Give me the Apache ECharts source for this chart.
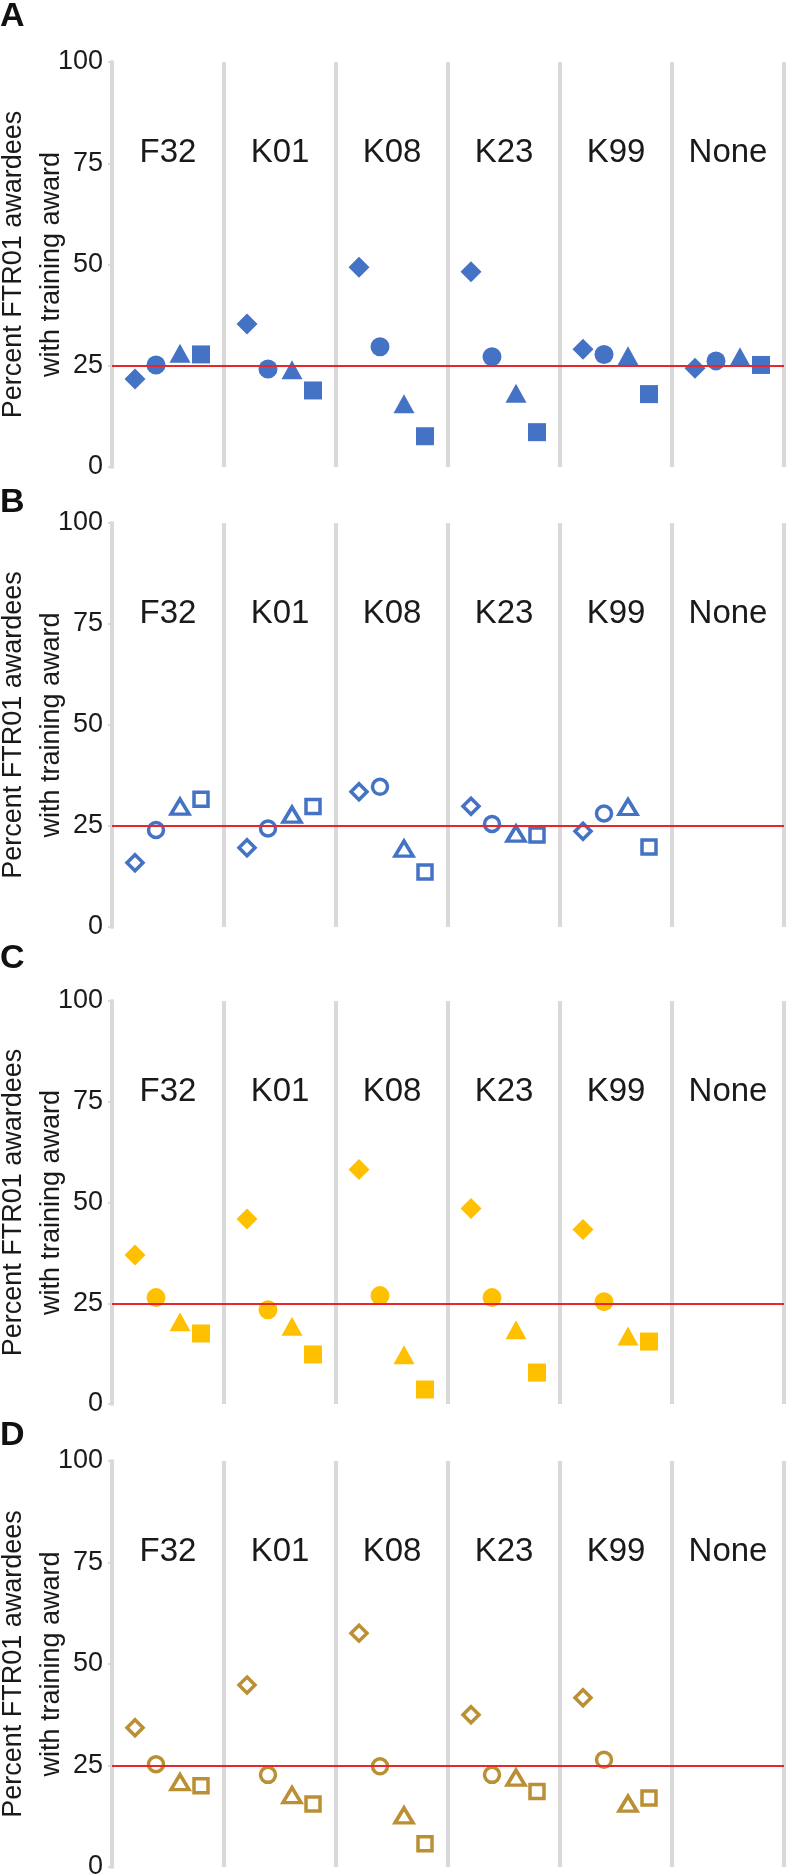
<!DOCTYPE html>
<html>
<head>
<meta charset="utf-8">
<script src="https://cdn.jsdelivr.net/npm/echarts@6/dist/echarts.min.js"></script>
<style>
html,body{margin:0;padding:0;background:#ffffff;}
#chart{width:790px;height:1874px;}
</style>
</head>
<body>
<div id="chart"></div>
<script>
// ---------- data ----------
const categories = ['F32', 'K01', 'K08', 'K23', 'K99', 'None'];
const yTickValues = [0, 25, 50, 75, 100];
const referenceLevel = 25;
const panelLetters = ['A', 'B', 'C', 'D'];
const yAxisName = 'Percent FTR01 awardees\nwith training award';

// Panel A (filled blue)
const diamondA  = [21.7, 35.3, 49.3, 48.2, 29.1, 24.4];
const circleA   = [25.2, 24.2, 29.7, 27.2, 27.8, 26.2];
const triangleA = [28.1, 24.0, 15.6, 18.2, 27.5, 27.2];
const squareA   = [27.8, 18.9, 7.6, 8.6, 18.0, 25.2];

// Panel B (hollow blue)
const diamondB  = [15.9, 19.6, 33.5, 29.9, 23.7, null];
const circleB   = [24.0, 24.4, 34.7, 25.5, 28.1, null];
const triangleB = [29.8, 27.8, 19.4, 23.1, 29.7, null];
const squareB   = [31.6, 29.8, 13.6, 22.8, 19.8, null];

// Panel C (filled gold)
const diamondC  = [37.0, 45.9, 58.2, 48.5, 43.3, null];
const circleC   = [26.4, 23.4, 26.9, 26.4, 25.4, null];
const triangleC = [20.4, 19.3, 12.2, 18.4, 16.9, null];
const squareC   = [17.5, 12.3, 3.6, 7.8, 15.5, null];

// Panel D (hollow dark gold)
const diamondD  = [34.3, 44.8, 57.6, 37.5, 41.7, null];
const circleD   = [25.3, 22.7, 24.8, 22.7, 26.4, null];
const triangleD = [20.9, 17.7, 12.7, 22.0, 15.6, null];
const squareD   = [20.0, 15.5, 5.7, 18.6, 17.0, null];

// ---------- styling / layout ----------
const FONT = '"Liberation Sans", Arial, Helvetica, sans-serif';
const panels = [
  { letter: panelLetters[0], data: [diamondA, circleA, triangleA, squareA], color: '#4472c4', filled: true,  top: 62,   height: 405, letterTop: 0 },
  { letter: panelLetters[1], data: [diamondB, circleB, triangleB, squareB], color: '#4472c4', filled: false, top: 523,  height: 404, letterTop: 486 },
  { letter: panelLetters[2], data: [diamondC, circleC, triangleC, squareC], color: '#ffc000', filled: true,  top: 1001, height: 403, letterTop: 942 },
  { letter: panelLetters[3], data: [diamondD, circleD, triangleD, squareD], color: '#bb8f33', filled: false, top: 1461, height: 406, letterTop: 1419 }
];
const shapes = [
  { symbol: 'diamond',  filledSize: 21,       hollowSize: 16,       offset: -33 },
  { symbol: 'circle',   filledSize: 19,       hollowSize: 15,       offset: -12 },
  { symbol: 'triangle', filledSize: [21, 19], hollowSize: [18, 15], offset: 12 },
  { symbol: 'rect',     filledSize: 18,       hollowSize: 14,       offset: 33 }
];
const GRAY = '#d9d9d9';

const grid = [], xAxis = [], yAxis = [], series = [], title = [];
panels.forEach((p, i) => {
  grid.push({ left: 112, right: 6, top: p.top, height: p.height, containLabel: false, outerBoundsMode: 'none' });
  title.push({ text: p.letter, left: 0, top: p.letterTop, padding: 0,
    textStyle: { fontFamily: FONT, fontSize: 34, fontWeight: 'bold', color: '#111' } });
  xAxis.push({
    type: 'category', gridIndex: i, data: categories, position: 'top', boundaryGap: true,
    axisLine: { show: false }, axisTick: { show: false },
    axisLabel: { inside: true, margin: 74, fontFamily: FONT, fontSize: 33, color: '#1a1a1a' },
    splitLine: { show: true, showMinLine: true, showMaxLine: true, lineStyle: { color: GRAY, width: 4 } }
  });
  yAxis.push({
    type: 'value', gridIndex: i,
    min: yTickValues[0], max: yTickValues[yTickValues.length - 1],
    interval: yTickValues[1] - yTickValues[0],
    name: yAxisName, nameLocation: 'middle', nameGap: 41, nameMoveOverlap: false,
    nameTextStyle: { fontFamily: FONT, fontSize: 27, lineHeight: 38, color: '#1a1a1a' },
    axisLine: { show: true, lineStyle: { color: GRAY, width: 4 } },
    axisTick: { show: true, length: 4, lineStyle: { color: GRAY, width: 2 } },
    axisLabel: { margin: 9, fontFamily: FONT, fontSize: 27, color: '#1a1a1a' },
    splitLine: { show: false }
  });
  // reference line
  series.push({
    type: 'scatter', xAxisIndex: i, yAxisIndex: i, data: [], z: 1, silent: true,
    markLine: {
      silent: true, symbol: ['none', 'none'], label: { show: false },
      lineStyle: { color: '#e8262b', width: 2, type: 'solid' },
      emphasis: { disabled: true },
      data: [{ yAxis: referenceLevel }]
    }
  });
  shapes.forEach((s, k) => {
    series.push({
      type: 'scatter', xAxisIndex: i, yAxisIndex: i, z: 3,
      data: p.data[k],
      symbol: s.symbol,
      symbolSize: p.filled ? s.filledSize : s.hollowSize,
      symbolOffset: [s.offset, 0],
      itemStyle: p.filled
        ? { color: p.color, opacity: 1 }
        : { color: '#ffffff', borderColor: p.color, borderWidth: 3.5, opacity: 1 }
    });
  });
});

const chart = echarts.init(document.getElementById('chart'), null, { renderer: 'canvas' });
chart.setOption({
  animation: false,
  backgroundColor: '#ffffff',
  title, grid, xAxis, yAxis, series
});
</script>
</body>
</html>
